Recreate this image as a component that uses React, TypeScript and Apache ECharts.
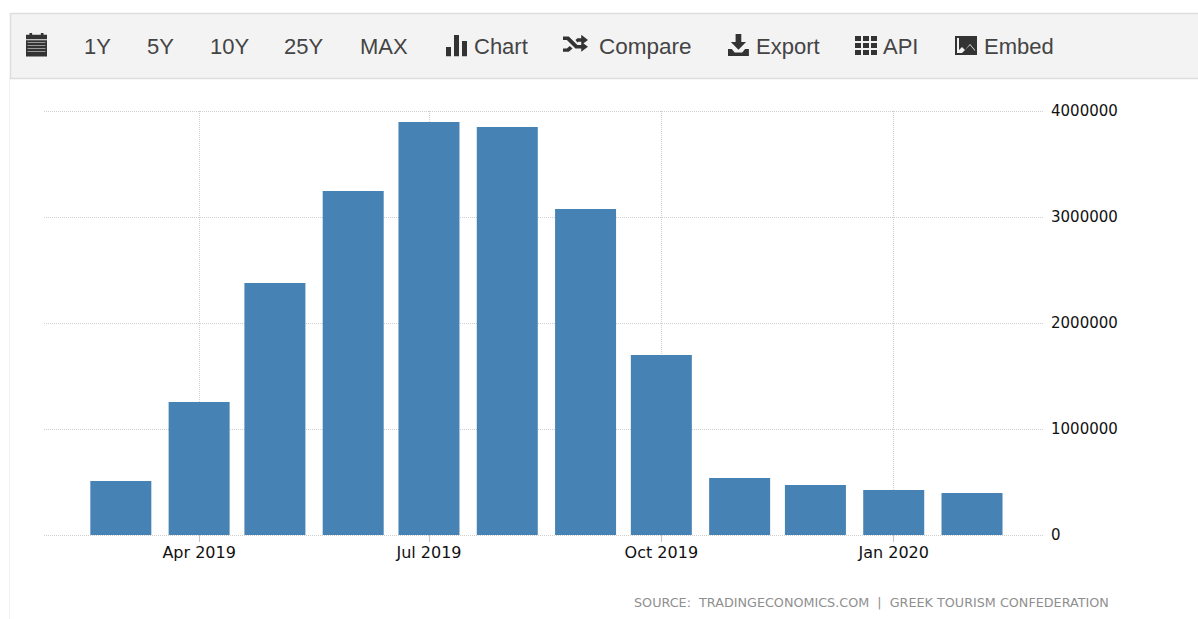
import React, { useEffect, useRef } from "react";
import * as echarts from "echarts";

const months = ["2019-03-01","2019-04-01","2019-05-01","2019-06-01","2019-07-01","2019-08-01","2019-09-01","2019-10-01","2019-11-01","2019-12-01","2020-01-01","2020-02-01"];
const visitors = [509000,1255000,2377000,3245000,3896000,3849000,3075000,1698000,538000,472000,425000,396000];
const tickDates = ["2019-04-01","2019-07-01","2019-10-01","2020-01-01"];
const tickLabels = ["Apr 2019","Jul 2019","Oct 2019","Jan 2020"];
const axisMin = "2019-01-29T14:00:00Z";
const axisMax = "2020-02-29T12:00:00Z";
const source = "SOURCE:  TRADINGECONOMICS.COM  |  GREEK TOURISM CONFEDERATION";

const ms = (s: string) => Date.parse(s.length === 10 ? s + "T00:00:00Z" : s);

const icons: Record<string, string> = {
  tbCalendar: "M4 0h3v2h10V0h3v2h4v5H0V2h4zM0 8h24v18H0z",
  tbBars: "M0 14h5v11H0zM8 0h5v25H8zM16 7h5v18h-5z",
  tbShuffle: "M0 3h6l9 10h4V9l7 6-7 6v-4h-6L4 7H0zM0 17h4l3-3 3 3-4 4H0zM13 7l2-2h4V1l7 6-7 6V9h-3l-1 1z",
  tbDownload: "M8 0h6v9h5l-8 9-8-9h5zM0 17h4l3 4h8l3-4h4v8H0z",
  tbGrid: "M0 0h6v5H0zM8 0h6v5H8zM16 0h6v5h-6zM0 7h6v5H0zM8 7h6v5H8zM16 7h6v5h-6zM0 14h6v5H0zM8 14h6v5H8zM16 14h6v5h-6z",
  tbImage: "M0 0h22v19H0zM2 2v15h18v-3l-5-6-5 6-3-3-3 3V2zM4 3h4v4H4zM7 17l8-8 5 6v2z",
};
let registered = false;
function registerIcons() {
  if (registered) return;
  registered = true;
  Object.keys(icons).forEach((k) => {
    echarts.graphic.registerShape(k, echarts.graphic.extendPath(icons[k] as any, {}) as any);
  });
}

export default function App() {
  const ref = useRef<HTMLDivElement>(null);
  useEffect(() => {
    document.body.style.margin = "0";
    registerIcons();
    const chart = echarts.init(ref.current!, undefined, { renderer: "svg" });
    const dark = "#333333";
    const icon = (type: string, x: number, y: number, sx = 1, sy = 1) => ({
      type, x, y, scaleX: sx, scaleY: sy, style: { fill: dark },
    });
    const label = (text: string, x: number, fontSize = 22) => ({
      type: "text", x, y: 46,
      style: { text, x: 0, y: 0, fill: "#444444", fontFamily: "Liberation Sans", fontSize, verticalAlign: "middle", align: "left" },
    });
    chart.setOption({
      animation: false,
      backgroundColor: "#ffffff",
      grid: { left: 44, right: 154, top: 111, bottom: 84 },
      xAxis: {
        type: "value",
        min: ms(axisMin),
        max: ms(axisMax),
        axisLine: { show: false },
        axisTick: { show: true, length: 7, lineStyle: { color: "#c4c4c4" }, customValues: tickDates.map(ms) },
        axisLabel: {
          customValues: tickDates.map(ms),
          formatter: (v: number) => tickLabels[tickDates.map(ms).indexOf(v)] ?? "",
          color: "#111111", fontFamily: "DejaVu Sans", fontSize: 16, margin: 9,
          hideOverlap: false,
        },
        splitLine: { show: true, lineStyle: { color: "#d0d0d0", type: [1, 1] } },
      },
      yAxis: {
        type: "value",
        position: "right",
        min: 0,
        max: 4000000,
        interval: 1000000,
        axisLine: { show: false },
        axisTick: { show: false },
        axisLabel: {
          color: "#111111", fontFamily: "DejaVu Sans", fontSize: 15, margin: 7,
          formatter: (v: number) => String(v),
        },
        splitLine: { show: true, lineStyle: { color: "#d0d0d0", type: [1, 1] } },
      },
      series: [{
        type: "bar",
        data: months.map((m, i) => [ms(m), visitors[i]]),
        barWidth: 61,
        itemStyle: { color: "#4682b4" },
      }],
      graphic: [
        { type: "rect", shape: { x: 9.5, y: 78, width: 1300, height: 700 }, style: { fill: "none", stroke: "#f0f0f0", lineWidth: 1 }, silent: true },
        { type: "rect", shape: { x: 10.5, y: 13.5, width: 1300, height: 65 }, style: { fill: "#f3f3f3", stroke: "#dddddd", lineWidth: 1.5 } },
        icon("tbCalendar", 26, 33, 0.875, 0.9),
        ...[0, 1, 2, 3].map((r) => ({ type: "rect", shape: { x: 27.5, y: 42 + r * 3, width: 18, height: 1 }, style: { fill: "#999999" } })),
        label("1Y", 84), label("5Y", 147), label("10Y", 210), label("25Y", 284), label("MAX", 360),
        icon("tbBars", 446, 35, 1, 0.85),
        label("Chart", 474),
        icon("tbShuffle", 563, 34, 0.96, 0.85),
        label("Compare", 599, 22.5),
        icon("tbDownload", 728, 34, 0.95, 0.88),
        label("Export", 756),
        icon("tbGrid", 855, 36),
        label("API", 883),
        icon("tbImage", 955, 36),
        label("Embed", 984),
        {
          type: "text", x: 634, y: 602,
          style: { text: source, fill: "#8f8f8f", fontFamily: "DejaVu Sans", fontSize: 12.75, verticalAlign: "middle", align: "left" },
        },
      ],
    });
    return () => chart.dispose();
  }, []);
  return <div ref={ref} style={{ width: 1198, height: 619 }} />;
}
